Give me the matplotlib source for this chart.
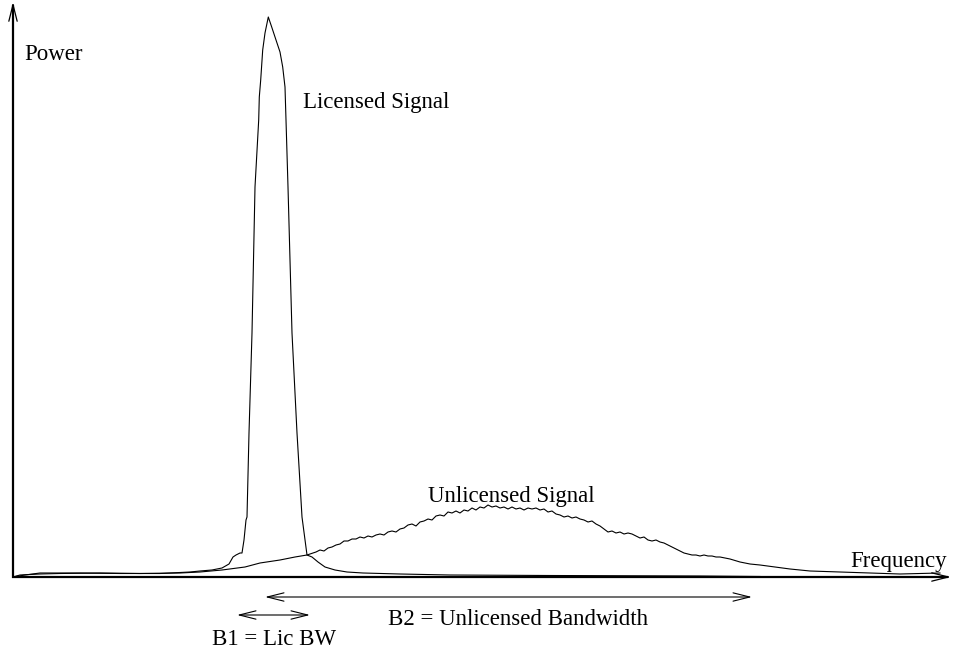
import matplotlib.pyplot as plt
from matplotlib.patches import ArrowStyle

plt.rcParams['font.family'] = ['Liberation Serif', 'DejaVu Serif']

# frequency / power, in plot units (power measured up from the frequency axis)
lic_freq = [13, 25, 40, 80, 120, 160, 190, 200, 212, 222, 229, 233, 236, 240, 242,
            244, 246, 247, 249, 252, 255, 258.7, 259.3, 260.7, 262.7, 265, 268.3,
            271.7, 276, 280, 282.7, 285, 286, 288, 292, 297, 302, 307, 312, 318,
            325, 335, 347, 363, 400, 450, 550, 700, 760]
lic_power = [0, 2, 4, 4, 3.5, 3.5, 5, 6, 7, 9, 13, 20, 22, 24, 24,
             37, 57, 60, 144, 244, 390, 457, 480, 497, 527, 544, 560,
             550, 537, 525, 510, 490, 457, 390, 244, 144, 60, 22, 20, 15,
             10, 7, 5, 4, 3, 2, 1.5, 1, 0.5]

unl_freq = [13, 20, 40, 60, 100, 140, 180, 200, 222, 245, 260, 280, 295, 307,
            316, 320, 324, 328, 332, 336, 340, 344, 348, 352, 356, 360, 364, 368,
            372, 376, 380, 384, 388, 392, 396, 400, 404, 408, 412, 416, 420, 424,
            428, 432, 436, 440, 444, 448, 452, 456, 460, 464, 468, 472, 476, 480,
            484, 488, 492, 496, 500, 504, 508, 512, 516, 520, 524, 528, 532, 536,
            540, 544, 548, 552, 556, 560, 564, 568, 572, 576, 580, 584, 588, 592,
            596, 600, 604, 608, 612, 616, 620, 624, 628, 632, 636, 640, 644, 648,
            652, 656, 660, 664, 668, 672, 676, 680, 684, 688, 692, 696, 700, 704,
            708, 712, 716, 720, 730, 740, 750, 760, 775, 790, 810, 840, 870, 900, 940]
unl_power = [0, 2, 3, 3.5, 4, 3.5, 4, 5, 7, 10, 14, 17, 20, 22,
             25, 27, 26, 29, 30, 32, 33, 36, 36, 38, 38, 40, 39, 41,
             40, 42, 43, 42, 45, 46, 45, 48, 49, 52, 53, 51, 55, 56,
             58, 57, 61, 62, 61, 65, 64, 66, 64, 67, 66, 69, 67, 70,
             69, 72, 70, 71, 69, 70, 68, 70, 68, 69, 67, 69, 68, 69,
             67, 68, 65, 66, 63, 62, 60, 61, 59, 60, 58, 57, 55, 56,
             53, 51, 48, 45, 46, 44, 45, 43, 44, 43, 41, 39, 40, 37,
             36, 37, 35, 34, 32, 30, 28, 26, 24, 23, 22, 22, 21, 22,
             21, 21, 20, 20, 18, 15, 13, 12, 10, 8, 6, 5, 4, 3, 4]

fig = plt.figure(figsize=(9.54, 6.51), dpi=100)
ax = fig.add_axes([0, 0, 1, 1])
ax.set_xlim(0, 954)
ax.set_ylim(-74, 577)
ax.axis('off')

ax.plot(lic_freq, lic_power, color='black', lw=0.8)
ax.plot(unl_freq, unl_power, color='black', lw=0.8)

# axes: thick shafts, thin open arrow heads
ax.plot([13, 13], [-1, 572], color='black', lw=1.6, solid_capstyle='butt')
ax.plot([12, 948], [0, 0], color='black', lw=1.6, solid_capstyle='butt')
head = ArrowStyle('->', head_length=12, head_width=3)
ax.annotate('', xy=(13, 575), xytext=(13, 540),
            arrowprops=dict(arrowstyle=head, lw=0.9, color='black',
                            mutation_scale=1, shrinkA=0, shrinkB=0))
ax.annotate('', xy=(951, 0), xytext=(900, 0),
            arrowprops=dict(arrowstyle=head, lw=0.9, color='black',
                            mutation_scale=1, shrinkA=0, shrinkB=0))

# bandwidth markers
both = ArrowStyle('<->', head_length=12, head_width=3)
ax.annotate('', xy=(752, -20), xytext=(265, -20),
            arrowprops=dict(arrowstyle=both, lw=0.8, color='black',
                            mutation_scale=1, shrinkA=0, shrinkB=0))
ax.annotate('', xy=(310, -38), xytext=(237, -38),
            arrowprops=dict(arrowstyle=both, lw=0.8, color='black',
                            mutation_scale=1, shrinkA=0, shrinkB=0))

fs = 16.5
ax.text(24, 517, 'Power', fontsize=fs, va='baseline')
ax.text(303, 469, 'Licensed Signal', fontsize=fs, va='baseline')
ax.text(428, 75, 'Unlicensed Signal', fontsize=fs, va='baseline')
ax.text(850, 10, 'Frequency', fontsize=fs, va='baseline')
ax.text(388, -48, 'B2 = Unlicensed Bandwidth', fontsize=fs, va='baseline')
ax.text(212, -68, 'B1 = Lic BW', fontsize=fs, va='baseline')

plt.savefig('out.png', dpi=100)
